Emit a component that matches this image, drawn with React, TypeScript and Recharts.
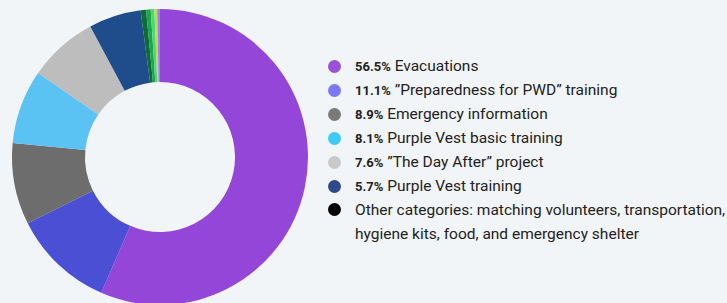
import { PieChart, Pie, Cell } from "recharts"

const labels = [
  "Evacuations",
  "\u201DPreparedness for PWD\u201D training",
  "Emergency information",
  "Purple Vest basic training",
  "\u201DThe Day After\u201D project",
  "Purple Vest training",
]
const shares = [56.5, 11.1, 8.9, 8.1, 7.6, 5.7]
const sliceColors = ["#9446d8", "#4a4fd4", "#6d6d6d", "#5ac3f4", "#bdbdbd", "#1f4c8b"]
const legendColors = ["#9b50d8", "#7b78f8", "#7a7a7a", "#3ccaf7", "#c9c9c9", "#2f4a8c"]

// small "other" slices at the top
const otherShares = [0.6, 0.5, 0.4, 0.3, 0.3]
const otherColors = ["#0f6a3a", "#1fa54c", "#4ad873", "#c9d84a", "#8a88ee"]
const otherLabelLines = [
  "Other categories: matching volunteers, transportation,",
  "hygiene kits, food, and emergency shelter",
]

const data = [
  ...shares.map((v, i) => ({ name: labels[i], value: v, color: sliceColors[i] })),
  ...otherShares.map((v, i) => ({ name: "other" + i, value: v, color: otherColors[i] })),
]

export default function App() {
  return (
    <div
      style={{
        position: "absolute",
        left: 0,
        top: 0,
        width: 727,
        height: 303,
        background: "#f2f5f8",
        fontFamily: "Roboto, sans-serif",
        overflow: "hidden",
      }}
    >
      <div style={{ position: "absolute", left: 0, top: 0 }}>
        <PieChart width={311} height={303}>
          <Pie
            data={data}
            dataKey="value"
            cx={155}
            cy={152}
            innerRadius={75}
            outerRadius={148}
            startAngle={90}
            endAngle={-270}
            stroke="none"
            isAnimationActive={false}
          >
            {data.map((d, i) => (
              <Cell key={i} fill={d.color} />
            ))}
          </Pie>
        </PieChart>
      </div>
      <div style={{ position: "absolute", left: 328, top: 54, width: 420, color: "#222", whiteSpace: "nowrap" }}>
        {shares.map((v, i) => (
          <div key={i} style={{ display: "flex", alignItems: "center", height: 24 }}>
            <span
              style={{
                width: 13,
                height: 13,
                borderRadius: "50%",
                background: legendColors[i],
                marginRight: 14,
                flex: "none",
              }}
            />
            <span style={{ fontSize: 15.5 }}>
              <b style={{ fontSize: 13 }}>{v.toFixed(1)}%</b> {labels[i]}
            </span>
          </div>
        ))}
        <div style={{ display: "flex", alignItems: "flex-start" }}>
          <span
            style={{
              width: 13,
              height: 13,
              borderRadius: "50%",
              background: "#000",
              marginRight: 14,
              marginTop: 5,
              flex: "none",
            }}
          />
          <span style={{ fontSize: 15.5, lineHeight: "24px" }}>
            {otherLabelLines.map((l, i) => (
              <div key={i}>{l}</div>
            ))}
          </span>
        </div>
      </div>
    </div>
  )
}
